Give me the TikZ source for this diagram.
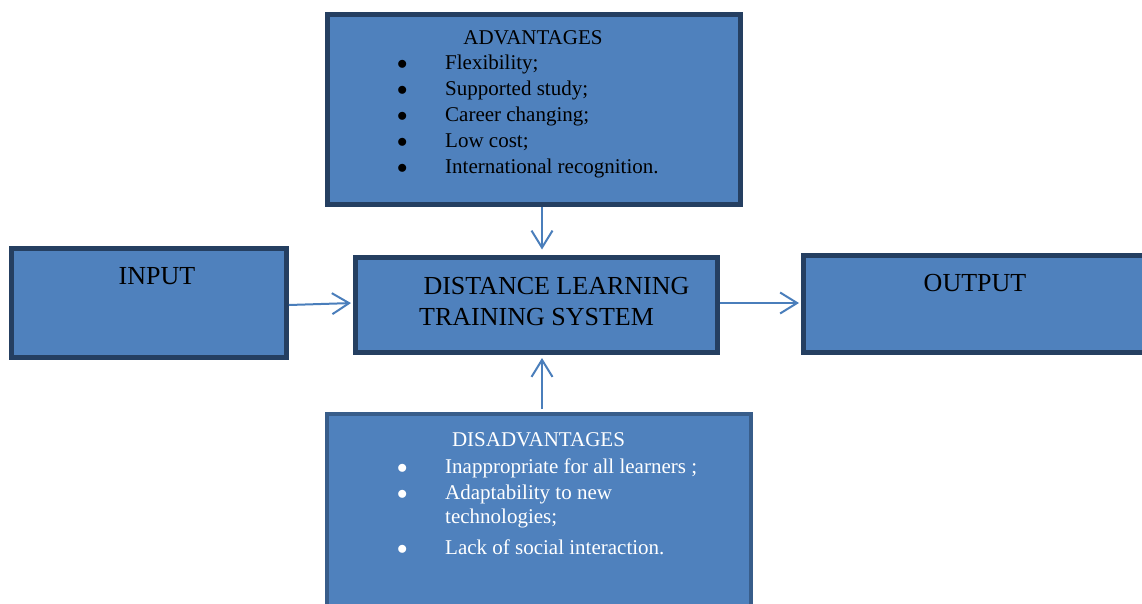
\documentclass[tikz,border=0pt]{standalone}
\usepackage{fontspec}
\setmainfont{Liberation Serif}
\usetikzlibrary{arrows.meta}
\definecolor{boxfill}{RGB}{79,129,189}
\definecolor{boxline}{RGB}{37,63,97}
\definecolor{disline}{RGB}{56,93,138}
\definecolor{flowcol}{RGB}{74,126,187}
\newcommand{\listfont}{\fontsize{21}{26}\selectfont}
\newcommand{\headfont}{\fontsize{26}{31}\selectfont}
\newcommand{\dotmark}{$\bullet$}

\begin{document}
\begin{tikzpicture}[x=1pt, y=-1pt,
	box/.style={draw=boxline, fill=boxfill, line width=5pt, inner sep=0pt},
	disbox/.style={box, draw=disline, line width=4pt},
	txt/.style={inner sep=0pt, font=\listfont},
	head/.style={inner sep=0pt, font=\headfont},
	flow/.style={draw=flowcol, line width=2pt, -{Straight Barb[length=17pt, width=21pt]}}]

\useasboundingbox (0,0) rectangle (1142,604);
\clip (0,0) rectangle (1142,604);

% ==== Top: advantages ====
\begin{scope}
	\node[box, minimum width=413pt, minimum height=190pt] (adv) at (534,109.5) {};
	\node[txt, anchor=base] (advtitle) at (533,44.3) {ADVANTAGES};
	\node[txt, anchor=base west] (advlist) at (396.8,70)
	{\begin{tabular}[t]{@{}p{48.2pt}@{}l@{}}
		\dotmark & Flexibility; \\
		\dotmark & Supported study; \\
		\dotmark & Career changing; \\
		\dotmark & Low cost; \\
		\dotmark & International recognition.
	\end{tabular}};
\end{scope}

% ==== Middle row: input, system, output ====
\begin{scope}
	\node[box, minimum width=275pt, minimum height=109pt] (inp) at (149,303) {};
	\node[head, anchor=base] (inptxt) at (157,284.3) {INPUT};
	
	\node[box, minimum width=362pt, minimum height=95pt] (sys) at (536.5,305) {};
	\node[head, anchor=base west] (systxt) at (419,294)
	{\begin{tabular}[t]{@{}l@{}}
		\,DISTANCE LEARNING \\
		TRAINING SYSTEM
	\end{tabular}};
	
	\node[box, minimum width=357pt, minimum height=97pt] (outp) at (982,304) {};
	\node[head, anchor=base] (outtxt) at (975,291.7) {OUTPUT};
\end{scope}

% ==== Bottom: disadvantages ====
\begin{scope}[every node/.append style={text=white}]
	\node[disbox, minimum width=424pt, minimum height=236pt] (disadv) at (539,532) {};
	\node[txt, anchor=base] (distitle) at (538.5,446.7) {DISADVANTAGES};
	\node[txt, anchor=base west] (dislist) at (396.8,473.3)
	{\begin{tabular}[t]{@{}p{48.2pt}@{}l@{}}
		\dotmark & Inappropriate for all learners ; \\
		\dotmark & Adaptability to new \\[-2pt]
		& technologies; \\[5pt]
		\dotmark & Lack of social interaction.
	\end{tabular}};
\end{scope}

% ==== Arrows ====
\draw[flow, shorten >=5.5pt] ([xshift=8pt]adv.south) -- ([xshift=5.5pt]sys.north);
\draw[flow, shorten >=2pt] ([yshift=-2pt]inp.east) -- ([yshift=2pt]sys.west);
\draw[flow, shorten >=2pt] ([yshift=2pt]sys.east) -- ([yshift=1pt]outp.west);
\draw[flow, shorten <=3pt, shorten >=3pt] ([xshift=3pt]disadv.north) -- ([xshift=5.5pt]sys.south);

\end{tikzpicture}
\end{document}
